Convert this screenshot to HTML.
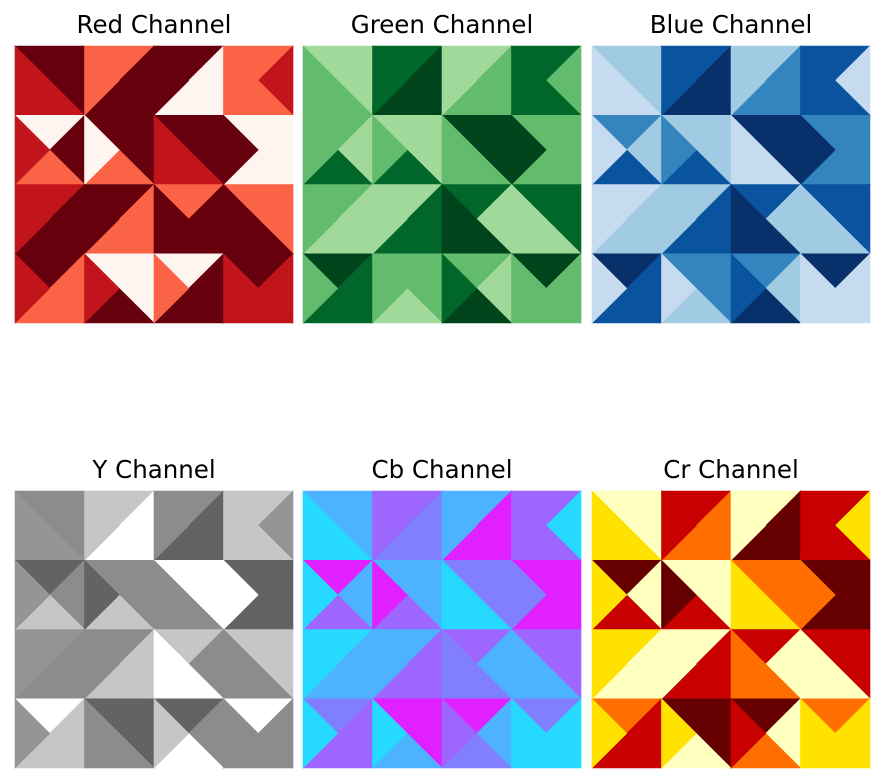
<!DOCTYPE html>
<html><head><meta charset="utf-8"><style>
body{margin:0;background:#fff;width:884px;height:784px;overflow:hidden}
svg{display:block}
text{font-family:"DejaVu Sans","Liberation Sans",sans-serif;font-size:24.5px;fill:#000}
</style></head><body>
<svg id="chart" width="884" height="784"></svg>
<script>
// cell values: [top, right, bottom, left] levels, rows top->bottom, cols left->right
const redVals=[[3,3,2,2],[1,3,3,1],[3,0,0,3],[1,2,1,1],
[0,3,1,2],[3,3,1,0],[3,3,2,2],[0,0,0,3],
[2,3,3,2],[3,1,1,3],[1,3,3,3],[1,1,3,3],
[3,1,1,2],[0,0,3,2],[0,3,3,1],[3,2,2,2]];
const greenVals=[[0,0,1,1],[2,3,3,2],[0,1,1,0],[2,1,2,2],
[1,0,2,1],[0,0,2,1],[3,3,1,1],[1,1,1,3],
[1,0,0,1],[0,2,2,0],[2,0,3,3],[2,2,0,0],
[3,2,2,1],[1,1,0,1],[1,0,3,2],[3,1,1,1]];
const blueVals=[[1,1,0,0],[3,4,4,3],[1,2,2,1],[3,0,3,3],
[2,1,3,0],[1,1,3,2],[4,4,0,0],[2,2,2,4],
[0,1,1,0],[1,3,3,1],[3,1,4,4],[3,3,1,1],
[4,3,3,0],[2,2,1,0],[2,1,4,3],[4,0,0,0]];
const yVals=[[3,3,2,2],[1,0,0,1],[3,4,4,3],[1,2,1,1],
[4,3,1,2],[3,3,1,4],[0,0,3,3],[4,4,4,0],
[2,3,3,2],[3,1,1,3],[1,3,0,0],[1,1,3,3],
[0,1,1,2],[4,4,3,3],[4,3,0,1],[0,3,3,3]];
const cbVals=[[1,1,0,0],[3,2,2,3],[1,4,4,1],[3,0,3,3],
[4,1,3,0],[1,1,3,4],[2,2,0,0],[4,4,4,2],
[0,1,1,0],[1,3,3,1],[3,1,2,2],[3,3,1,1],
[2,3,3,0],[4,4,1,0],[4,1,2,3],[2,0,0,0]];
const crVals=[[0,0,1,1],[3,2,2,3],[0,4,4,0],[3,1,3,3],
[4,0,3,1],[0,0,3,4],[2,2,1,1],[4,4,4,2],
[1,0,0,1],[0,3,3,0],[3,0,2,2],[3,3,0,0],
[2,3,3,1],[4,4,0,1],[4,0,2,3],[2,1,1,1]];
const titles=["Red Channel","Green Channel","Blue Channel","Y Channel","Cb Channel","Cr Channel"];
const palettes=[
["#fff5f0","#fb6346","#c1151b","#67000d"],
["#a1d99b","#63bb6d","#00662a","#00441b"],
["#c6dbef","#a0cbe2","#3484c0","#0a539e","#08306b"],
["#ffffff","#c6c6c6","#959595","#8c8c8c","#636363"],
["#26d9ff","#4db2ff","#8080ff","#9d66ff","#e020ff"],
["#ffffc0","#ffe200","#ff6e00","#c80000","#660000"]];
const allVals=[redVals,greenVals,blueVals,yVals,cbVals,crVals];
const NS="http://www.w3.org/2000/svg";
const svg=document.getElementById('chart');
const px0=[15,303,592], py0=[46,491], W=278, H=277;
allVals.forEach((vals,pi)=>{
  const g=document.createElementNS(NS,'g');
  const slug=titles[pi].toLowerCase().replace(' ','-');
  
  
  svg.appendChild(g);
  const x0=px0[pi%3], y0=py0[Math.floor(pi/3)];
  const cw=W/4, ch=H/4;
  vals.forEach((cell,ci)=>{
    const r=Math.floor(ci/4), c=ci%4;
    const L=x0+c*cw, T=y0+r*ch, R=L+cw, B=T+ch, cx=(L+R)/2, cy=(T+B)/2;
    const tris=[[[L,T],[R,T]],[[R,T],[R,B]],[[R,B],[L,B]],[[L,B],[L,T]]];
    tris.forEach((pp,k)=>{
      const p=document.createElementNS(NS,'polygon');
      p.setAttribute('points',pp.map(q=>q.join(',')).join(' ')+' '+cx+','+cy);
      const col=palettes[pi][cell[k]];
      p.setAttribute('fill',col);p.setAttribute('stroke',col);p.setAttribute('stroke-width','0.6');
      
      
      g.appendChild(p);
    });
  });
  const t=document.createElementNS(NS,'text');
  t.setAttribute('x',x0+W/2);t.setAttribute('y',y0-13);t.setAttribute('text-anchor','middle');
  t.textContent=titles[pi];
  
  
  svg.appendChild(t);
});
</script>
</body></html>
